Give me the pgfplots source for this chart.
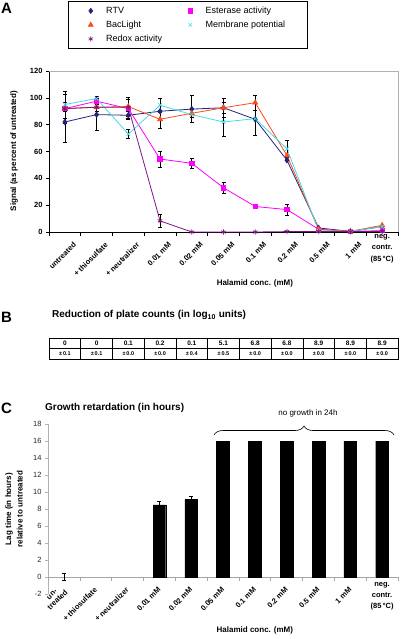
\documentclass[border=0pt]{standalone}
\usepackage{pgfplots}
\pgfplotsset{compat=1.18}
\usepackage{fontspec}
\setmainfont{Liberation Sans}
\usetikzlibrary{decorations.pathreplacing}
\definecolor{rtv}{RGB}{35,35,125}
\definecolor{bac}{RGB}{255,75,25}
\definecolor{redox}{RGB}{125,20,130}
\definecolor{est}{RGB}{255,0,255}
\definecolor{mem}{RGB}{70,220,225}
\pgfplotsset{
  errstyle/.style={error bars/.cd, y dir=both, y explicit,
    error bar style={black,line width=0.6pt},
    error mark options={rotate=90,black,mark size=2pt,line width=0.6pt}},
}
\begin{document}
\begin{tikzpicture}
\useasboundingbox (0,0) rectangle (400pt,-639pt);
\begin{scope}[x=1pt,y=1pt]
% panel letters
\node[font=\fontsize{15}{16}\selectfont\bfseries, inner sep=0pt] at (6.5,-8.5) {A};
\node[font=\fontsize{15}{16}\selectfont\bfseries, inner sep=0pt] at (6.5,-317) {B};
\node[font=\fontsize{15}{16}\selectfont\bfseries, inner sep=0pt] at (6.5,-408) {C};
% panel B
\node[anchor=west, font=\fontsize{10}{11}\selectfont\bfseries, inner sep=0pt] at (52,-315) {Reduction of plate counts (in log\textsubscript{10} units)};
\draw[line width=0.5pt] (49,-348.5) -- (398,-348.5);
\foreach \i in {1,...,10} {\draw[line width=0.5pt] ({49+\i*31.727},-338) -- ({49+\i*31.727},-359);}
\draw[line width=0.9pt] (49,-338) rectangle (398,-359);
\foreach \v [count=\i from 0] in {0,0,0.1,0.2,0.1,5.1,6.8,6.8,8.9,8.9,8.9}
  {\node[font=\fontsize{6.5}{7}\selectfont\bfseries, inner sep=0pt] at ({49+31.727*(\i+0.5)},-343.3) {\v};}
\foreach \v [count=\i from 0] in {0.1,0.1,0.0,0.0,0.4,0.5,0.0,0.0,0.0,0.0,0.0}
  {\node[font=\fontsize{5.5}{6}\selectfont\bfseries, inner sep=0pt] at ({49+31.727*(\i+0.5)},-353.8) {±\,\v};}
% panel C title and brace
\node[anchor=west, font=\fontsize{10}{11}\selectfont\bfseries, inner sep=0pt] at (45,-408) {Growth retardation (in hours)};
\draw[decorate, decoration={brace, amplitude=9pt}, line width=0.6pt] (214,-435) -- (394,-435);
\node[font=\fontsize{8}{9}\selectfont] at (308,-413) {no growth in 24h};
\end{scope}

% ---------------- Panel A ----------------
\begin{axis}[
  at={(49pt,-232pt)}, anchor=south west, scale only axis,
  width=349pt, height=161pt,
  xmin=-0.5, xmax=10.5, ymin=0, ymax=120,
  axis x line*=bottom, axis y line*=left,
  axis line style={black, line width=0.6pt},
  ytick={0,20,...,120},
  xtick={0,...,9},
  xticklabels={untreated, + thiosulfate, + neutralizer, 0.01 mM, 0.02 mM, 0.05 mM, 0.1 mM, 0.2 mM, 0.5 mM, 1 mM},
  minor xtick={-0.5,0.5,...,10.5},
  major x tick style={draw=none},
  minor x tick style={black, line width=0.5pt},
  y tick style={black, line width=0.5pt},
  tick align=outside, major tick length=3pt, minor tick length=4pt,
  /pgf/number format/assume math mode=true,
  yticklabel style={font=\fontsize{7.5}{8}\selectfont\bfseries},
  xticklabel style={font=\fontsize{7.5}{8}\selectfont\bfseries, rotate=45, anchor=east, inner sep=0pt, xshift=1pt, yshift=-13pt},
  ylabel={Signal (as percent of untreated)},
  ylabel style={font=\fontsize{8}{9}\selectfont\bfseries, at={(axis description cs:-0.1003,0.503)}, anchor=center},
  xlabel={Halamid conc. (mM)},
  xlabel style={font=\fontsize{8}{9}\selectfont\bfseries, at={(axis description cs:0.59,-0.317)}, anchor=center},
  clip=false,
  legend columns=2,
  legend cell align=left,
  legend style={at={(rel axis cs:0.0544,1.4348)}, anchor=north west, draw=black, line width=0.7pt,
    font=\fontsize{9}{10}\selectfont, inner xsep=20pt, inner ysep=3.5pt, row sep=2pt,
    /tikz/every odd column/.append style={column sep=11pt},
    /tikz/every even column/.append style={column sep=24pt}},
  legend image code/.code={\draw[#1, line width=0.6pt] plot[only marks] coordinates {(0pt,0pt)};},
]
\draw[gray!60, line width=0.6pt] (rel axis cs:0,1) -- (rel axis cs:1,1) -- (rel axis cs:1,0);
% RTV
\addplot[color=rtv, line width=0.8pt, mark=diamond*, mark size=2.6pt, errstyle] coordinates {
(0,82) +- (0,15) (1,87.5) +- (0,12) (2,87) +- (0,3) (3,90) +- (0,1) (4,91.6) +- (0,10)
(5,92.6) +- (0,4) (6,84) +- (0,12) (7,53.5) +- (0,0) (8,3) +- (0,0) (9,0.5) +- (0,0) (10,4) +- (0,0)};
\addlegendentry{RTV}
% Esterase
\addplot[color=est, line width=0.8pt, mark=square*, mark size=2.2pt, errstyle] coordinates {
(0,92) +- (0,2) (1,97.5) +- (0,2) (2,92) +- (0,7) (3,54.4) +- (0,6) (4,51.2) +- (0,3.5)
(5,33) +- (0,4.4) (6,19) +- (0,1) (7,16.7) +- (0,4) (8,2) +- (0,0) (9,0.5) +- (0,0) (10,1) +- (0,0)};
\addlegendentry{Esterase activity}
% BacLight
\addplot[color=bac, line width=0.8pt, mark=triangle*, mark size=2.8pt, errstyle] coordinates {
(0,92) +- (0,11) (1,93) +- (0,3) (2,93.5) +- (0,7) (3,84) +- (0,7) (4,88.5) +- (0,3)
(5,92.6) +- (0,7) (6,96.4) +- (0,5.5) (7,57) +- (0,0) (8,2) +- (0,0) (9,0.5) +- (0,0) (10,5) +- (0,0)};
\addlegendentry{BacLight}
% Membrane potential
\addplot[color=mem, line width=0.8pt, mark=x, mark size=2.6pt, errstyle] coordinates {
(0,95) +- (0,10) (1,99.5) +- (0,1.5) (2,73) +- (0,3.5) (3,94.5) +- (0,5) (4,87.5) +- (0,0)
(5,82) +- (0,10.5) (6,84.5) +- (0,0) (7,62) +- (0,6) (8,1) +- (0,0) (9,0.5) +- (0,0) (10,4) +- (0,0)};
\addlegendentry{Membrane potential}
% Redox
\addplot[color=redox, line width=0.8pt, mark=asterisk, mark size=2.6pt, errstyle] coordinates {
(0,92) +- (0,0) (1,93) +- (0,0) (2,93) +- (0,0) (3,8.3) +- (0,4.7) (4,0) +- (0,0)
(5,0) +- (0,0) (6,0) +- (0,0) (7,0.3) +- (0,0) (8,0.3) +- (0,0) (9,0.3) +- (0,0) (10,0.5) +- (0,0)};
\addlegendentry{Redox activity}
\node[font=\fontsize{7.5}{11.5}\selectfont\bfseries, align=center, anchor=north, inner sep=0pt, yshift=-2pt] at (axis cs:10,0) {neg.\\contr.\\(85\,°C)};
\end{axis}

% ---------------- Panel C ----------------
\begin{axis}[
  at={(48pt,-594pt)}, anchor=south west, scale only axis,
  width=350pt, height=170pt,
  xmin=-0.5, xmax=10.5, ymin=-2, ymax=18,
  axis x line*=bottom, axis y line*=left,
  x axis line style={draw=none},
  y axis line style={gray!60, line width=0.6pt},
  ytick={-2,0,...,18},
  xtick={0,...,9},
  xticklabels={{un-\\treated}, + thiosulfate, + neutralizer, 0.01 mM, 0.02 mM, 0.05 mM, 0.1 mM, 0.2 mM, 0.5 mM, 1 mM},
  major x tick style={draw=none},
  y tick style={gray!60, line width=0.5pt},
  tick align=outside, major tick length=3pt,
  /pgf/number format/assume math mode=true,
  yticklabel style={font=\fontsize{7.5}{8}\selectfont, text=black!85},
  xticklabel style={font=\fontsize{7.5}{8}\selectfont\bfseries, rotate=45, anchor=east, inner sep=0pt, align=center, xshift=6pt, yshift=6pt},
  ylabel={Lag time (in hours)\\relative to untreated},
  ylabel style={font=\fontsize{8}{11.5}\selectfont\bfseries, align=center, at={(axis description cs:-0.097,0.5)}, anchor=center},
  xlabel={Halamid conc. (mM)},
  xlabel style={font=\fontsize{8}{9}\selectfont\bfseries, at={(axis description cs:0.591,-0.212)}, anchor=center},
  clip=false,
]
\draw[gray!70, line width=0.6pt] (axis cs:-0.5,0) -- (axis cs:10.5,0);
\pgfplotsinvokeforeach{-0.5,0.5,1.5,2.5,3.5,4.5,5.5,6.5,7.5,8.5,9.5,10.5}{\draw[gray!70, line width=0.5pt] (axis cs:#1,0) -- ++(0pt,-4pt);}
\addplot[ybar, bar width=12.7pt, fill=black, draw=black, errstyle] coordinates {
(3,8.5) +- (0,0.35) (4,9.1) +- (0,0.35) (5,16) +- (0,0) (6,16) +- (0,0) (7,16) +- (0,0)
(8,16) +- (0,0) (9,16) +- (0,0) (10,16) +- (0,0)};
\addplot[draw=none, mark=none, forget plot, errstyle] coordinates {(0,0) +- (0,0.4)};
\node[font=\fontsize{7.5}{11}\selectfont\bfseries, align=center, anchor=north, inner sep=0pt, yshift=-5pt] at (axis cs:10,0) {neg.\\contr.\\(85\,°C)};
\end{axis}
\end{tikzpicture}
\end{document}
